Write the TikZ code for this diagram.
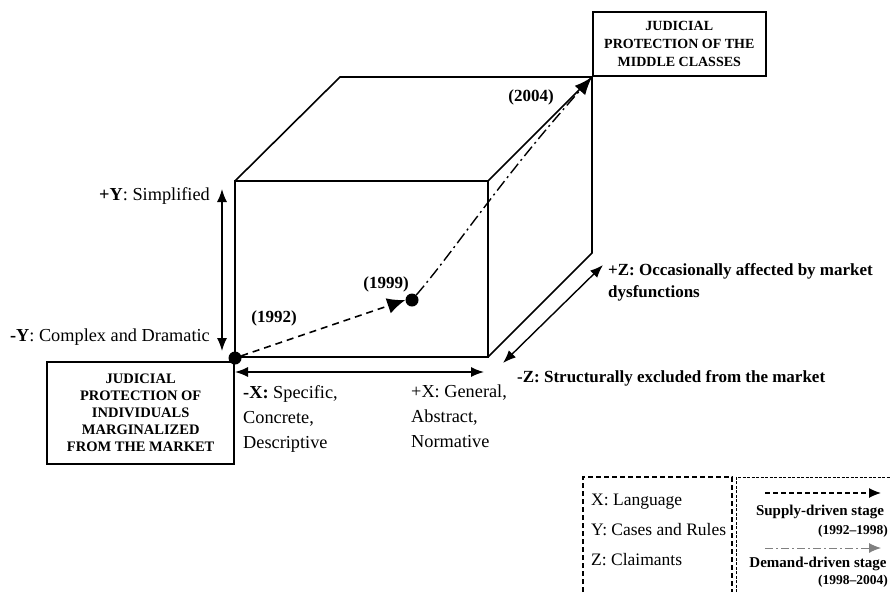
\documentclass[tikz,border=0pt]{standalone}
\usepackage{fontspec}
\setmainfont{Liberation Serif}
\usetikzlibrary{arrows.meta}
\tikzset{
  edge/.style={line width=1.6pt, line join=miter},
  dbl/.style={line width=1.4pt, {Latex[length=13pt,width=10pt]}-{Latex[length=13pt,width=10pt]}},
  lbl/.style={font=\fontsize{18.3}{25}\selectfont, inner sep=0pt},
  yr/.style={font=\bfseries\fontsize{17}{22}\selectfont, inner sep=0pt},
  boxtxt/.style={draw, line width=1.6pt, fill=white, font=\bfseries\fontsize{14}{18}\selectfont, align=center, inner sep=0pt},
  leg/.style={font=\fontsize{17.5}{20}\selectfont, inner sep=0pt},
  legb/.style={font=\bfseries\fontsize{15}{17}\selectfont, inner sep=0pt},
  legd/.style={font=\bfseries\fontsize{13.5}{17}\selectfont, inner sep=0pt},
  dotn/.style={circle, fill=black, minimum size=13pt, inner sep=0pt},
}
\begin{document}
\begin{tikzpicture}[x=1pt,y=-1pt]
\useasboundingbox (0,0) rectangle (891,592);
% cube corners
\coordinate (ftl) at (235,181);
\coordinate (ftr) at (488,181);
\coordinate (fbr) at (488,357);
\coordinate (fbl) at (235,357);
\coordinate (btl) at (340,77);
\coordinate (btr) at (592,77);
\coordinate (bbr) at (592,253);
% cube
\draw[edge] (ftl) rectangle (fbr);
\draw[edge] (ftl) -- (btl) -- (btr) -- (ftr);
\draw[edge] (btr) -- (bbr) -- (fbr);
% boxes
\node[boxtxt, minimum width=173pt, minimum height=64pt, anchor=south west] (mid) at (592,77)
  {JUDICIAL\\PROTECTION OF THE\\MIDDLE CLASSES};
\node[boxtxt, font=\bfseries\fontsize{14.5}{17.2}\selectfont, minimum width=187pt, minimum height=102pt, anchor=north east] (ind) at (235,361)
  {JUDICIAL\\PROTECTION OF\\INDIVIDUALS\\MARGINALIZED\\FROM THE MARKET};
% dots
\node[dotn] (d92) at (235,358) {};
\node[dotn] (d99) at (412,300) {};
% paths
\draw[line width=1.6pt, dash pattern=on 7pt off 5pt, -{Latex[length=18pt,width=16pt]}] (d92) -- (d99.west);
\draw[line width=1.4pt, dash pattern=on 12pt off 4pt on 2pt off 4pt, -{Latex[length=18pt,width=14pt]}]
  (d99) .. controls (455,250) and (500,180) .. (btr);
% axes arrows
\coordinate (yt) at (222,189);
\coordinate (yb) at (222,351);
\draw[dbl] (yt) -- (yb);
\coordinate (xl) at (235,372);
\coordinate (xr) at (484,372);
\draw[dbl] (xl) -- (xr);
\coordinate (zb) at (503,363);
\coordinate (zt) at (603,265);
\draw[dbl] (zb) -- (zt);
% labels
\node[lbl, anchor=east] (ypl) at (210,196) {\textbf{+Y}: Simplified};
\node[lbl, anchor=east] (yml) at (210,337) {\textbf{-Y}: Complex and Dramatic};
\node[lbl, anchor=north west, align=left] (xml) at (243,385) {\textbf{-X:} Specific,\\Concrete,\\Descriptive};
\node[lbl, anchor=north west, align=left] (xpl) at (411,385) {+X: General,\\Abstract,\\Normative};
\node[yr, anchor=north west, align=left] (zpl) at (608,263) {+Z: Occasionally affected by market\\dysfunctions};
\node[yr, anchor=west] (zml) at (517,378) {-Z: Structurally excluded from the market};
\node[yr] (y92) at (274,318) {(1992)};
\node[yr] (y99) at (386,284) {(1999)};
\node[yr] (y04) at (531,97) {(2004)};
% legend
\draw[line width=1.2pt, dash pattern=on 5pt off 3pt] (583,592) -- (583,477) -- (732,477) -- (732,592);
\draw[line width=0.9pt, dash pattern=on 3pt off 1.5pt] (736,592) -- (736,477) -- (891,477);
\node[leg, anchor=west] (lx) at (591,502) {X: Language};
\node[leg, anchor=west] (ly) at (591,530) {Y: Cases and Rules};
\node[leg, anchor=west] (lz) at (591,560) {Z: Claimants};
\coordinate (a1s) at (765,493);
\coordinate (a1e) at (881,493);
\draw[line width=1.2pt, dash pattern=on 5pt off 3pt, -{Latex[length=12pt,width=10pt]}] (a1s) -- (a1e);
\node[legb] (s1) at (820,512) {Supply-driven stage};
\node[legd, anchor=east] (s1y) at (888,531) {(1992--1998)};
\coordinate (a2s) at (765,548);
\coordinate (a2e) at (881,548);
\draw[line width=1pt, gray, dash pattern=on 8pt off 3pt on 2pt off 3pt, -{Latex[length=12pt,width=10pt]}] (a2s) -- (a2e);
\node[legb] (s2) at (818,564) {Demand-driven stage};
\node[legd, anchor=east] (s2y) at (888,581) {(1998--2004)};
\end{tikzpicture}
\end{document}
